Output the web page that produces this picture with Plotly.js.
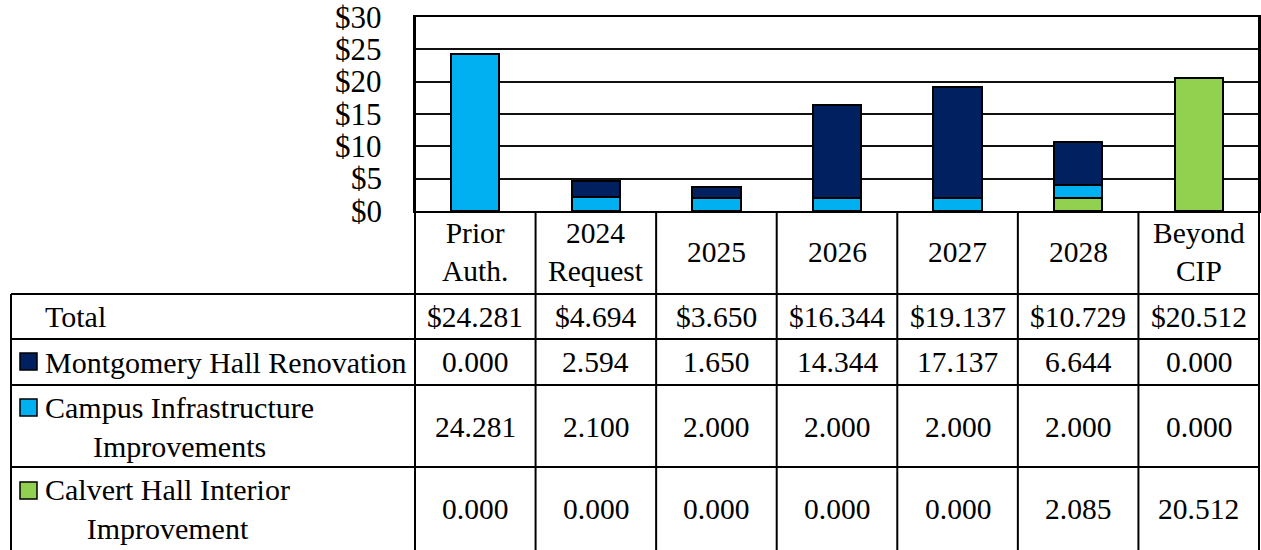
<!DOCTYPE html>
<html>
<head>
<meta charset="utf-8">
<script src="https://cdn.plot.ly/plotly-3.0.1.min.js"></script>
<style>html,body{margin:0;padding:0;background:#fff;}#chart{width:1261px;height:550px;}</style>
</head>
<body>
<div id="chart"></div>
<script>
// ---- data ----
const categories = ['Prior Auth.', '2024 Request', '2025', '2026', '2027', '2028', 'Beyond CIP'];
const headerLabels = ['Prior<br>Auth.', '2024<br>Request', '2025', '2026', '2027', '2028', 'Beyond<br>CIP'];
const montgomery = [0.000, 2.594, 1.650, 14.344, 17.137, 6.644, 0.000];
const campus = [24.281, 2.100, 2.000, 2.000, 2.000, 2.000, 0.000];
const calvert = [0.000, 0.000, 0.000, 0.000, 0.000, 2.085, 20.512];
const totals = [24.281, 4.694, 3.650, 16.344, 19.137, 10.729, 20.512];
const seriesNames = ['Montgomery Hall Renovation', 'Campus Infrastructure<br>Improvements', 'Calvert Hall Interior<br>Improvement'];
const yTicks = [0, 5, 10, 15, 20, 25, 30];

// ---- styling / layout ----
const colors = {montgomery: '#002060', campus: '#00B0F0', calvert: '#92D050'};
const FONT = 'Liberation Serif, Times New Roman, serif';
const FS = 29.5;
const W = 1261, H = 550;
const L = 415, R = 2, T = 17, B = 339;
const PW = W - L - R, PH = H - T - B;
const px = p => (p - L) / PW;          // pixel x -> paper
const py = p => (T + PH - p) / PH;     // pixel y -> paper

const nz = arr => arr.map(v => v === 0 ? null : v);
const mk = (name, vals, col) => ({type: 'bar', name: name, x: categories, y: nz(vals), width: 0.4,
  marker: {color: col, line: {color: '#000', width: 2}}, hoverinfo: 'y'});

const traces = [
  mk('Calvert Hall Interior Improvement', calvert, colors.calvert),
  mk('Campus Infrastructure Improvements', campus, colors.campus),
  mk('Montgomery Hall Renovation', montgomery, colors.montgomery)
];

// table geometry (pixels)
const tableLeft = 11;
const headerBottom = 294;
const rowLines = [294, 339, 385, 467];
const rowCenters = {total: 317, montgomery: 362, campus: 427, calvert: 509};
const headerCenter = 252.5;

const shapes = [];
const line = (x0, y0, x1, y1, w) => shapes.push({type: 'line', xref: 'paper', yref: 'paper', x0: x0, y0: y0, x1: x1, y1: y1, line: {color: '#000', width: w || 2}, layer: 'above'});

// column boundaries below axis
for (let i = 0; i <= categories.length; i++) {
  const xp = i / categories.length;
  const top = (i === 0 || i === categories.length) ? 1 : 0;
  line(xp, top, xp, py(H), 2);
}
// table left border
line(px(tableLeft), py(headerBottom), px(tableLeft), py(H), 2);
// horizontal row lines
rowLines.forEach(r => line(px(tableLeft), py(r), 1, py(r), 2));

// legend swatches
const swatches = [
  {c: colors.montgomery, y0: 353, y1: 370},
  {c: colors.campus, y0: 399, y1: 416},
  {c: colors.calvert, y0: 482, y1: 499}
];
swatches.forEach(s => shapes.push({type: 'rect', xref: 'paper', yref: 'paper', x0: px(20), x1: px(37), y0: py(s.y1), y1: py(s.y0), fillcolor: s.c, line: {color: '#000', width: 1.5}, layer: 'above'}));

const annotations = [];
const ann = (o) => annotations.push(Object.assign({showarrow: false, font: {family: FONT, size: FS, color: '#000'}, yanchor: 'middle'}, o));

// y tick labels (placed on the y scale)
yTicks.forEach(v => ann({xref: 'paper', x: px(384), yref: 'y', y: v, text: '$' + v, xanchor: 'right', align: 'right', font: {family: FONT, size: 31, color: '#000'}}));
// header labels (x = category index on the category axis)
categories.forEach((c, i) => ann({xref: 'x', x: i, yref: 'paper', y: py(headerCenter), text: headerLabels[i], xanchor: 'center', align: 'center'}));
// row labels
const LBL = 30;
ann({xref: 'paper', x: px(43), yref: 'paper', y: py(rowCenters.total), text: 'Total', xanchor: 'left', align: 'left', font: {family: FONT, size: LBL, color: '#000'}});
ann({xref: 'paper', x: px(43), yref: 'paper', y: py(rowCenters.montgomery), text: seriesNames[0], xanchor: 'left', align: 'left', font: {family: FONT, size: LBL, color: '#000'}});
ann({xref: 'paper', x: px(43), yref: 'paper', y: py(rowCenters.campus), text: seriesNames[1], xanchor: 'left', align: 'center', font: {family: FONT, size: LBL, color: '#000'}});
ann({xref: 'paper', x: px(43), yref: 'paper', y: py(rowCenters.calvert), text: seriesNames[2], xanchor: 'left', align: 'center', font: {family: FONT, size: LBL, color: '#000'}});
// values
categories.forEach((c, i) => {
  ann({xref: 'x', x: i, yref: 'paper', y: py(rowCenters.total), text: '$' + totals[i].toFixed(3), xanchor: 'center'});
  ann({xref: 'x', x: i, yref: 'paper', y: py(rowCenters.montgomery), text: montgomery[i].toFixed(3), xanchor: 'center'});
  ann({xref: 'x', x: i, yref: 'paper', y: py(rowCenters.campus), text: campus[i].toFixed(3), xanchor: 'center'});
  ann({xref: 'x', x: i, yref: 'paper', y: py(rowCenters.calvert), text: calvert[i].toFixed(3), xanchor: 'center'});
});

const layout = {
  width: W, height: H,
  margin: {l: L, r: R, t: T, b: B, pad: 0},
  paper_bgcolor: '#fff', plot_bgcolor: '#fff',
  barmode: 'stack',
  showlegend: false,
  font: {family: FONT, color: '#000'},
  xaxis: {type: 'category', range: [-0.5, 6.5], showticklabels: false, ticks: '', showgrid: false, zeroline: false,
          showline: true, linecolor: '#000', linewidth: 2, mirror: true, fixedrange: true},
  yaxis: {range: [0, 30], tickvals: yTicks, showticklabels: false, ticks: '',
          showgrid: true, gridcolor: '#111', gridwidth: 2,
          zeroline: false, showline: true, linecolor: '#000', linewidth: 2, mirror: true, fixedrange: true},
  shapes: shapes,
  annotations: annotations
};

Plotly.newPlot('chart', traces, layout, {displayModeBar: false, staticPlot: true});
</script>
</body>
</html>
